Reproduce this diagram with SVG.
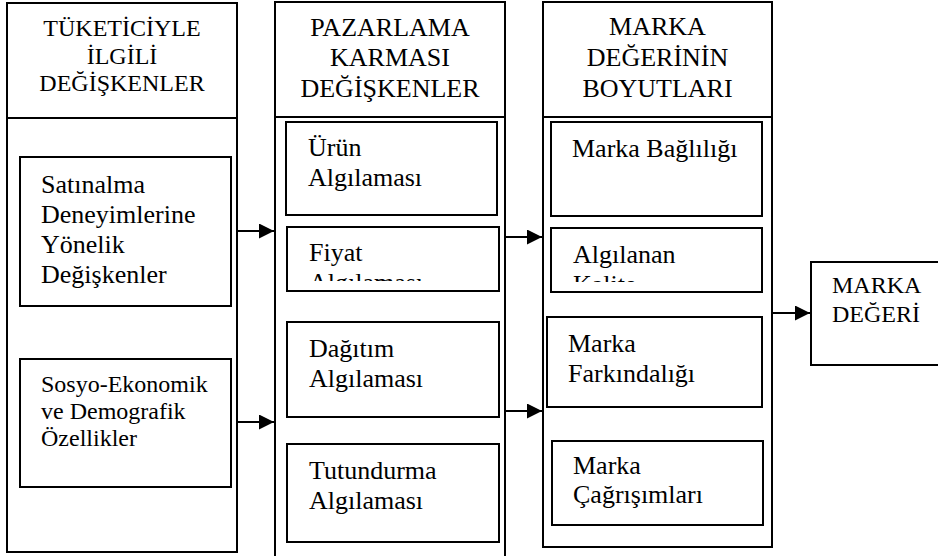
<svg xmlns="http://www.w3.org/2000/svg" width="938" height="556" viewBox="0 0 938 556" font-family="'Liberation Serif', 'Times New Roman', serif">
<style>
.box{fill:#fff;stroke:#000;stroke-width:2}
.ln{stroke:#000;stroke-width:2;fill:none}
text{font-family:'Liberation Serif','Times New Roman',serif;fill:#000}
.h{text-anchor:middle}
.s24{font-size:24px}
.s26{font-size:26px}
.con{stroke:#000;stroke-width:2;fill:none;marker-end:url(#ah)}
</style>
<defs>
<marker id="ah" viewBox="0 0 15 15" refX="15" refY="7.5" markerWidth="15" markerHeight="15" markerUnits="userSpaceOnUse" orient="auto">
<path d="M0,0 L15,7.5 L0,15 Z" fill="#000"/>
</marker>
<clipPath id="cFiyat"><rect x="288" y="228" width="210" height="53"/></clipPath>
<clipPath id="cKalite"><rect x="552" y="229" width="209" height="53"/></clipPath>
</defs>
<rect width="938" height="556" fill="#fff"/>

<g id="col-tuketici">
<rect class="box" x="7" y="3" width="230" height="549"/>
<line class="ln" x1="7" y1="118" x2="237" y2="118"/>
<text class="h s24" x="122" y="36">TÜKETİCİYLE</text>
<text class="h s24" x="122" y="64">İLGİLİ</text>
<text class="h s24" x="122" y="91">DEĞİŞKENLER</text>
</g>
<g id="node-satinalma">
<rect class="box" x="20" y="157" width="211" height="149"/>
<text class="s26" x="41" y="193">Satınalma</text>
<text class="s26" x="41" y="223">Deneyimlerine</text>
<text class="s26" x="41" y="253">Yönelik</text>
<text class="s26" x="41" y="283">Değişkenler</text>
</g>
<g id="node-sosyo">
<rect class="box" x="20" y="359" width="211" height="128"/>
<text class="s24" x="41" y="392">Sosyo-Ekonomik</text>
<text class="s24" x="41" y="419">ve Demografik</text>
<text class="s24" x="41" y="446">Özellikler</text>
</g>

<g id="col-pazarlama">
<rect class="box" x="275" y="2" width="230" height="570"/>
<line class="ln" x1="275" y1="117" x2="505" y2="117"/>
<text class="h s26" x="390" y="36">PAZARLAMA</text>
<text class="h s26" x="390" y="66">KARMASI</text>
<text class="h s26" x="390" y="97">DEĞİŞKENLER</text>
</g>
<g id="node-urun">
<rect class="box" x="286" y="122" width="211" height="93"/>
<text class="s26" x="308" y="156">Ürün</text>
<text class="s26" x="308" y="186">Algılaması</text>
</g>
<g id="node-fiyat">
<rect class="box" x="287" y="227" width="212" height="64"/>
<g clip-path="url(#cFiyat)">
<text class="s26" x="309" y="261">Fiyat</text>
<text class="s26" x="309" y="291">Algılaması</text>
</g>
</g>
<g id="node-dagitim">
<rect class="box" x="287" y="322" width="212" height="95"/>
<text class="s26" x="309" y="357">Dağıtım</text>
<text class="s26" x="309" y="387">Algılaması</text>
</g>
<g id="node-tutundurma">
<rect class="box" x="287" y="444" width="212" height="98"/>
<text class="s26" x="309" y="479">Tutundurma</text>
<text class="s26" x="309" y="509">Algılaması</text>
</g>

<g id="col-marka">
<rect class="box" x="543" y="2" width="229" height="545"/>
<line class="ln" x1="543" y1="117" x2="772" y2="117"/>
<text class="h s26" x="657.5" y="35">MARKA</text>
<text class="h s26" x="657.5" y="66">DEĞERİNİN</text>
<text class="h s26" x="657.5" y="97">BOYUTLARI</text>
</g>
<g id="node-baglilik">
<rect class="box" x="551" y="122" width="211" height="94"/>
<text class="s26" x="572" y="157">Marka Bağlılığı</text>
</g>
<g id="node-kalite">
<rect class="box" x="551" y="228" width="211" height="64"/>
<g clip-path="url(#cKalite)">
<text class="s26" x="573" y="263">Algılanan</text>
<text class="s26" x="573" y="293">Kalite</text>
</g>
</g>
<g id="node-farkindalik">
<rect class="box" x="547" y="317" width="215" height="90"/>
<text class="s26" x="568" y="352">Marka</text>
<text class="s26" x="568" y="382">Farkındalığı</text>
</g>
<g id="node-cagrisim">
<rect class="box" x="552" y="441" width="211" height="84"/>
<text class="s26" x="573" y="474">Marka</text>
<text class="s26" x="573" y="503">Çağrışımları</text>
</g>

<g id="node-marka-degeri">
<rect class="box" x="811" y="262" width="140" height="103"/>
<text class="s24" x="832" y="293">MARKA</text>
<text class="s24" x="832" y="322">DEĞERİ</text>
</g>

<g id="connectors">
<line class="con" x1="237" y1="231" x2="274" y2="231"/>
<line class="con" x1="237" y1="422" x2="274" y2="422"/>
<line class="con" x1="505" y1="237" x2="542" y2="237"/>
<line class="con" x1="505" y1="411" x2="542" y2="411"/>
<line class="con" x1="772" y1="313" x2="810" y2="313"/>
</g>
</svg>
